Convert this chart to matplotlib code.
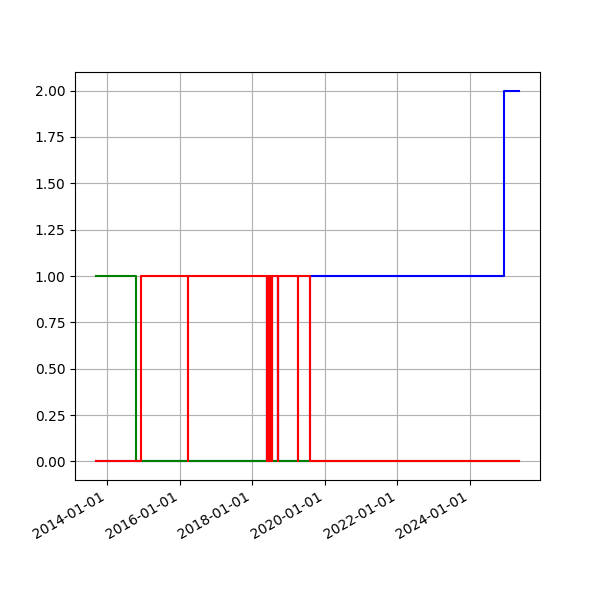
import matplotlib
matplotlib.use("Agg")
import matplotlib.pyplot as plt
import matplotlib.dates as mdates
import pandas as pd

blue_dates = ["2013-09-12", "2018-05-28", "2018-05-29", "2018-09-20", "2018-09-21",
              "2019-08-04", "2024-12-10", "2025-05-07"]
blue_vals = [0, 1, 0, 1, 0, 1, 2, 2]

green_dates = ["2013-09-12", "2014-10-18", "2025-05-07"]
green_vals = [1, 0, 0]

red_dates = ["2013-09-12", "2014-12-08",
             "2016-03-25", "2016-03-26",
             "2018-05-28", "2018-05-29",
             "2018-06-05", "2018-06-06",
             "2018-06-12", "2018-06-13",
             "2018-06-19", "2018-06-20",
             "2018-06-27", "2018-06-28",
             "2018-07-05", "2018-07-06",
             "2018-07-13", "2018-07-14",
             "2018-07-20", "2018-07-21",
             "2018-09-20", "2018-09-21",
             "2019-04-09", "2019-04-10",
             "2019-08-04", "2025-05-07"]
red_vals = [0, 1,
            0, 1,
            0, 1,
            0, 1,
            0, 1,
            0, 1,
            0, 1,
            0, 1,
            0, 1,
            0, 1,
            0, 1,
            0, 1,
            0, 0]

fig, ax = plt.subplots(figsize=(6, 6), dpi=100)
ax.plot(pd.to_datetime(blue_dates), blue_vals, drawstyle="steps-post", color="blue")
ax.plot(pd.to_datetime(green_dates), green_vals, drawstyle="steps-post", color="green")
ax.plot(pd.to_datetime(red_dates), red_vals, drawstyle="steps-post", color="red")

ax.xaxis.set_major_locator(mdates.YearLocator(2))
ax.xaxis.set_major_formatter(mdates.DateFormatter("%Y-%m-%d"))
ax.grid(True)
fig.autofmt_xdate()
fig.savefig("out.png", dpi=100)
